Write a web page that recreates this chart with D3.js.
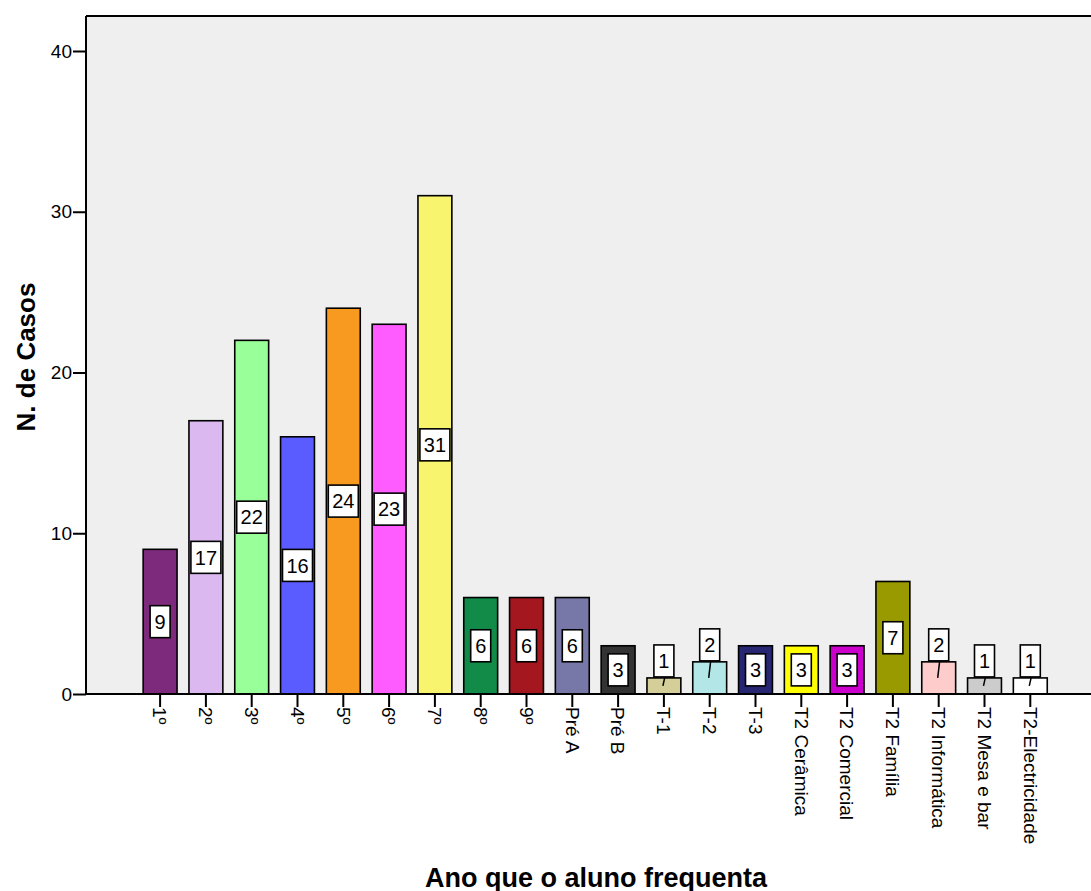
<!DOCTYPE html>
<html><head><meta charset="utf-8">
<script src="https://cdn.jsdelivr.net/npm/d3@7"></script>
<style>body{margin:0;background:#fff}svg{display:block;font-family:"Liberation Sans",Arial,sans-serif}</style>
</head><body><svg id="c" width="1091" height="891"></svg>
<script>
const categories = ["1º","2º","3º","4º","5º","6º","7º","8º","9º","Pré A","Pré B","T-1","T-2","T-3","T2 Cerâmica","T2 Comercial","T2 Família","T2 Informática","T2 Mesa e bar","T2-Electricidade"];
const values = [9,17,22,16,24,23,31,6,6,6,3,1,2,3,3,3,7,2,1,1];
const colors = ["#7e2a7c","#dcb8f0","#99ff99","#5b5cff","#f99a20","#ff5cff","#f8f46e","#128a48","#a4171e","#7878a8","#333333","#d4cf98","#b3e6e6","#262673","#ffff00","#cc00cc","#999900","#ffcccc","#cccccc","#ffffff"];
const yTicks = [0,10,20,30,40];
const yTitle = "N. de Casos";
const xTitle = "Ano que o aluno frequenta";

const svg = d3.select("#c");
const plotL = 86, plotT = 16, plotR = 1095, plotB = 694;
const y = d3.scaleLinear().domain([0,40]).range([694,51]);
const x = d3.scaleBand().domain(categories).range([137.2,1053.2]).paddingInner(0.26).paddingOuter(0.13);

svg.append("rect").attr("x",plotL).attr("y",plotT).attr("width",plotR-plotL).attr("height",plotB-plotT).attr("fill","#efefef");

// bars
svg.append("g").selectAll("rect").data(categories).join("rect")
  .attr("x",d=>x(d)).attr("width",x.bandwidth())
  .attr("y",(d,i)=>y(values[i])).attr("height",(d,i)=>y(0)-y(values[i]))
  .attr("fill",(d,i)=>colors[i]).attr("stroke","#000").attr("stroke-width",1.6);

// frame lines
svg.append("line").attr("x1",plotL).attr("x2",plotR).attr("y1",plotT).attr("y2",plotT).attr("stroke","#000").attr("stroke-width",2);
svg.append("line").attr("x1",plotL).attr("x2",plotL).attr("y1",plotT).attr("y2",plotB).attr("stroke","#000").attr("stroke-width",2);

// y axis
const ya = svg.append("g").attr("transform",`translate(${plotL},0)`)
  .call(d3.axisLeft(y).tickValues(yTicks).tickSize(13).tickPadding(1));
ya.select(".domain").remove();
ya.selectAll(".tick line").attr("stroke","#000").attr("stroke-width",2);
ya.selectAll(".tick text").attr("font-size",19).attr("fill","#000").attr("font-family","Liberation Sans, Arial, sans-serif");

// x axis
const xa = svg.append("g").attr("transform",`translate(0,${plotB})`)
  .call(d3.axisBottom(x).tickSize(13).tickSizeOuter(0));
xa.select(".domain").attr("d",`M${plotL},0H${plotR}`).attr("stroke","#000").attr("stroke-width",2);
xa.selectAll(".tick line").attr("stroke","#000").attr("stroke-width",2);
xa.selectAll(".tick text").attr("font-size",19).attr("fill","#000").attr("font-family","Liberation Sans, Arial, sans-serif")
  .attr("transform","rotate(90)").attr("text-anchor","start").attr("x",13).attr("y",0).attr("dy","0.35em");

// value labels
const lab = svg.append("g").selectAll("g").data(categories).join("g");
lab.each(function(d,i){
  const g = d3.select(this);
  const v = values[i];
  const cx = x(d)+x.bandwidth()/2;
  const w = String(v).length>1 ? 30 : 20, h = 32;
  let cy;
  if (v < 3) {
    cy = y(v) - 17;
    g.append("line").attr("x1",cx+1).attr("y1",cy+h/2).attr("x2",cx-1).attr("y2",y(v/2)).attr("stroke","#000").attr("stroke-width",1.5);
  } else cy = y(v/2);
  g.append("rect").attr("x",cx-w/2).attr("y",cy-h/2).attr("width",w).attr("height",h)
    .attr("fill","#fff").attr("stroke","#000").attr("stroke-width",1.6);
  g.append("text").attr("x",cx).attr("y",cy).attr("dy","0.36em").attr("text-anchor","middle")
    .attr("font-size",20).text(v);
});

// titles
svg.append("text").attr("transform","translate(35,357) rotate(-90)").attr("text-anchor","middle")
  .attr("font-size",26).attr("font-weight","bold").text(yTitle);
svg.append("text").attr("x",596).attr("y",887).attr("text-anchor","middle")
  .attr("font-size",27).attr("font-weight","bold").text(xTitle);
</script></body></html>
